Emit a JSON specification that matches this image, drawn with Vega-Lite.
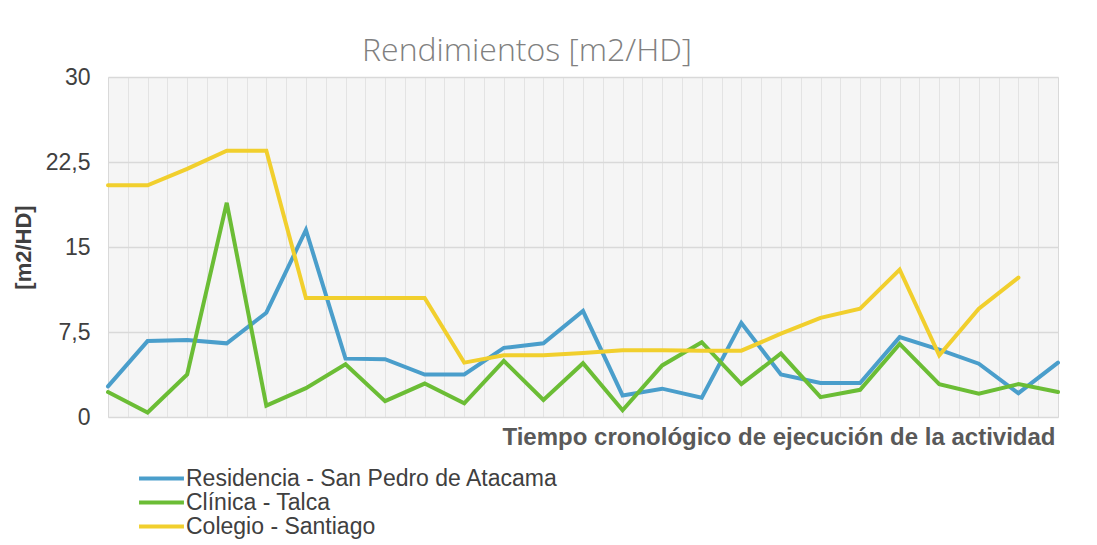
{
  "$schema": "https://vega.github.io/schema/vega-lite/v6.json",
  "autosize": {"type": "none"},
  "width": 950,
  "height": 340,
  "padding": {"left": 108, "top": 77, "right": 39, "bottom": 128},
  "background": "white",
  "config": {
    "view": {"fill": "#f5f5f5", "stroke": "#d9d9d9", "strokeWidth": 1},
    "font": "Liberation Sans"
  },
  "title": {
    "text": "Rendimientos [m2/HD]",
    "font": "Open Sans",
    "fontSize": 32,
    "fontWeight": 300,
    "color": "#808080",
    "anchor": "middle",
    "dx": -56,
    "offset": -2
  },
  "data": {
    "values": [
      {"i": 0, "s": "Residencia - San Pedro de Atacama", "v": 2.7},
      {"i": 1, "s": "Residencia - San Pedro de Atacama", "v": 6.7},
      {"i": 2, "s": "Residencia - San Pedro de Atacama", "v": 6.8},
      {"i": 3, "s": "Residencia - San Pedro de Atacama", "v": 6.5},
      {"i": 4, "s": "Residencia - San Pedro de Atacama", "v": 9.2},
      {"i": 5, "s": "Residencia - San Pedro de Atacama", "v": 16.5},
      {"i": 6, "s": "Residencia - San Pedro de Atacama", "v": 5.15},
      {"i": 7, "s": "Residencia - San Pedro de Atacama", "v": 5.1},
      {"i": 8, "s": "Residencia - San Pedro de Atacama", "v": 3.75},
      {"i": 9, "s": "Residencia - San Pedro de Atacama", "v": 3.75},
      {"i": 10, "s": "Residencia - San Pedro de Atacama", "v": 6.1},
      {"i": 11, "s": "Residencia - San Pedro de Atacama", "v": 6.5},
      {"i": 12, "s": "Residencia - San Pedro de Atacama", "v": 9.35},
      {"i": 13, "s": "Residencia - San Pedro de Atacama", "v": 1.9},
      {"i": 14, "s": "Residencia - San Pedro de Atacama", "v": 2.5},
      {"i": 15, "s": "Residencia - San Pedro de Atacama", "v": 1.7},
      {"i": 16, "s": "Residencia - San Pedro de Atacama", "v": 8.3},
      {"i": 17, "s": "Residencia - San Pedro de Atacama", "v": 3.75},
      {"i": 18, "s": "Residencia - San Pedro de Atacama", "v": 3.0},
      {"i": 19, "s": "Residencia - San Pedro de Atacama", "v": 3.0},
      {"i": 20, "s": "Residencia - San Pedro de Atacama", "v": 7.05},
      {"i": 21, "s": "Residencia - San Pedro de Atacama", "v": 5.95},
      {"i": 22, "s": "Residencia - San Pedro de Atacama", "v": 4.7},
      {"i": 23, "s": "Residencia - San Pedro de Atacama", "v": 2.1},
      {"i": 24, "s": "Residencia - San Pedro de Atacama", "v": 4.8},
      {"i": 0, "s": "Clínica - Talca", "v": 2.2},
      {"i": 1, "s": "Clínica - Talca", "v": 0.4},
      {"i": 2, "s": "Clínica - Talca", "v": 3.75},
      {"i": 3, "s": "Clínica - Talca", "v": 18.9},
      {"i": 4, "s": "Clínica - Talca", "v": 1.0},
      {"i": 5, "s": "Clínica - Talca", "v": 2.55},
      {"i": 6, "s": "Clínica - Talca", "v": 4.65},
      {"i": 7, "s": "Clínica - Talca", "v": 1.4},
      {"i": 8, "s": "Clínica - Talca", "v": 2.95},
      {"i": 9, "s": "Clínica - Talca", "v": 1.2},
      {"i": 10, "s": "Clínica - Talca", "v": 4.95},
      {"i": 11, "s": "Clínica - Talca", "v": 1.5},
      {"i": 12, "s": "Clínica - Talca", "v": 4.75},
      {"i": 13, "s": "Clínica - Talca", "v": 0.6},
      {"i": 14, "s": "Clínica - Talca", "v": 4.55},
      {"i": 15, "s": "Clínica - Talca", "v": 6.6},
      {"i": 16, "s": "Clínica - Talca", "v": 2.9},
      {"i": 17, "s": "Clínica - Talca", "v": 5.6},
      {"i": 18, "s": "Clínica - Talca", "v": 1.75},
      {"i": 19, "s": "Clínica - Talca", "v": 2.4},
      {"i": 20, "s": "Clínica - Talca", "v": 6.45},
      {"i": 21, "s": "Clínica - Talca", "v": 2.9},
      {"i": 22, "s": "Clínica - Talca", "v": 2.05},
      {"i": 23, "s": "Clínica - Talca", "v": 2.9},
      {"i": 24, "s": "Clínica - Talca", "v": 2.2},
      {"i": 0, "s": "Colegio - Santiago", "v": 20.45},
      {"i": 1, "s": "Colegio - Santiago", "v": 20.45},
      {"i": 2, "s": "Colegio - Santiago", "v": 21.9},
      {"i": 3, "s": "Colegio - Santiago", "v": 23.5},
      {"i": 4, "s": "Colegio - Santiago", "v": 23.5},
      {"i": 5, "s": "Colegio - Santiago", "v": 10.5},
      {"i": 6, "s": "Colegio - Santiago", "v": 10.5},
      {"i": 7, "s": "Colegio - Santiago", "v": 10.5},
      {"i": 8, "s": "Colegio - Santiago", "v": 10.5},
      {"i": 9, "s": "Colegio - Santiago", "v": 4.8},
      {"i": 10, "s": "Colegio - Santiago", "v": 5.45},
      {"i": 11, "s": "Colegio - Santiago", "v": 5.45},
      {"i": 12, "s": "Colegio - Santiago", "v": 5.65},
      {"i": 13, "s": "Colegio - Santiago", "v": 5.9},
      {"i": 14, "s": "Colegio - Santiago", "v": 5.9},
      {"i": 15, "s": "Colegio - Santiago", "v": 5.85},
      {"i": 16, "s": "Colegio - Santiago", "v": 5.85},
      {"i": 17, "s": "Colegio - Santiago", "v": 7.35},
      {"i": 18, "s": "Colegio - Santiago", "v": 8.75},
      {"i": 19, "s": "Colegio - Santiago", "v": 9.55},
      {"i": 20, "s": "Colegio - Santiago", "v": 13.0},
      {"i": 21, "s": "Colegio - Santiago", "v": 5.45},
      {"i": 22, "s": "Colegio - Santiago", "v": 9.55},
      {"i": 23, "s": "Colegio - Santiago", "v": 12.3}
    ]
  },
  "mark": {"type": "line", "strokeWidth": 4, "strokeCap": "round", "strokeJoin": "miter"},
  "encoding": {
    "x": {
      "field": "i",
      "type": "quantitative",
      "scale": {"domain": [0, 24], "nice": false, "zero": false},
      "axis": {
        "values": [0.5, 1, 1.5, 2, 2.5, 3, 3.5, 4, 4.5, 5, 5.5, 6, 6.5, 7, 7.5, 8, 8.5, 9, 9.5, 10, 10.5, 11, 11.5, 12, 12.5, 13, 13.5, 14, 14.5, 15, 15.5, 16, 16.5, 17, 17.5, 18, 18.5, 19, 19.5, 20, 20.5, 21, 21.5, 22, 22.5, 23, 23.5],
        "labels": false,
        "ticks": false,
        "domain": false,
        "grid": true,
        "gridColor": "#e3e3e3",
        "gridWidth": 1,
        "title": "Tiempo cronológico de ejecución de la actividad",
        "titleAnchor": "end",
        "titleFontSize": 24,
        "titleFontWeight": "bold",
        "titleColor": "#595959",
        "titlePadding": 8,
        "titleX": 947
      }
    },
    "y": {
      "field": "v",
      "type": "quantitative",
      "scale": {"domain": [0, 30], "nice": false},
      "axis": {
        "values": [0, 7.5, 15, 22.5, 30],
        "labelExpr": "replace(toString(datum.value), '.', ',')",
        "labelFontSize": 23,
        "labelColor": "#404040",
        "labelPadding": 18,
        "ticks": false,
        "domain": false,
        "grid": true,
        "gridColor": "#d9d9d9",
        "gridWidth": 1.5,
        "title": "[m2/HD]",
        "titleFontSize": 22,
        "titleFontWeight": "bold",
        "titleColor": "#404040",
        "titlePadding": 10
      }
    },
    "color": {
      "field": "s",
      "type": "nominal",
      "sort": ["Residencia - San Pedro de Atacama", "Clínica - Talca", "Colegio - Santiago"],
      "scale": {
        "domain": ["Residencia - San Pedro de Atacama", "Clínica - Talca", "Colegio - Santiago"],
        "range": ["#4a9ecb", "#6bbd35", "#f1cf2d"]
      },
      "legend": {
        "title": null,
        "orient": "none",
        "legendX": 42,
        "legendY": 390,
        "direction": "vertical",
        "symbolType": "M-4,0H4",
        "symbolSize": 126,
        "symbolStrokeWidth": 4,
        "labelFontSize": 23,
        "labelColor": "#404040",
        "labelOffset": 13,
        "labelLimit": 700,
        "rowPadding": 0
      }
    }
  }
}
